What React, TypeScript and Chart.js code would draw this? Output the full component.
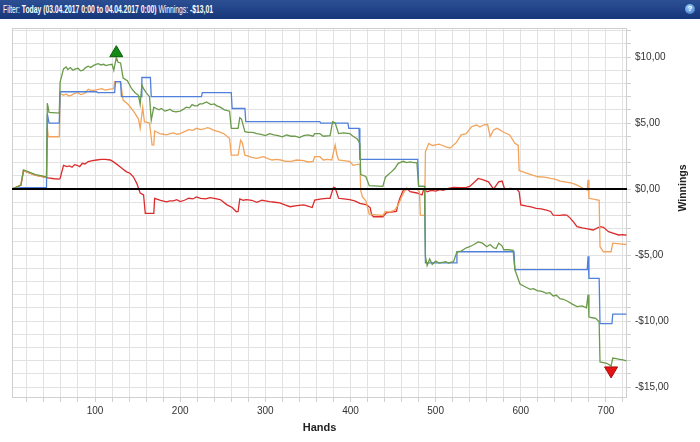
import React, { useEffect, useLayoutEffect, useRef } from 'react';
import { Chart, registerables } from 'chart.js';

Chart.register(...registerables);

// ---- data (hands on x, winnings in $ on y) ----
const greenHands = [2, 8, 13, 16, 22, 30, 38, 43, 44, 46, 58, 59, 63, 66, 68, 71, 74, 77, 80, 83, 86, 89, 92, 95, 98, 101, 104, 107, 110, 113, 116, 120, 122, 125, 127, 130, 133, 138, 143, 147, 151, 153, 155, 157, 160, 164, 166, 169, 172, 175, 178, 182, 185, 188, 191, 195, 200, 204, 207, 211, 214, 217, 220, 223, 226, 231, 236, 240, 243, 247, 252, 258, 260, 268, 270, 272, 276, 280, 285, 290, 295, 300, 305, 310, 315, 320, 325, 330, 335, 340, 345, 350, 356, 358, 364, 368, 376, 379, 382, 386, 392, 399, 403, 408, 411, 412, 418, 422, 438, 441, 448, 452, 456, 462, 466, 470, 474, 478, 480, 487, 488, 490, 493, 496, 500, 504, 508, 512, 515, 521, 525, 530, 536, 540, 545, 550, 555, 560, 564, 568, 571, 574, 578, 580, 586, 591, 593, 599, 605, 611, 615, 619, 625, 630, 634, 638, 642, 646, 650, 655, 660, 666, 672, 677, 679, 680, 684, 688, 692, 693, 701, 706, 708, 712, 716, 720, 724];
const greenValues = [0.0, 0.15, 0.3, 1.45, 1.3, 1.1, 1.0, 0.9, 6.5, 5.8, 5.75, 8.1, 9.1, 9.25, 9.05, 9.2, 9.0, 9.1, 9.15, 8.95, 9.0, 9.2, 9.3, 9.2, 9.35, 9.45, 9.5, 9.4, 9.45, 9.35, 9.4, 9.45, 9.0, 9.95, 9.6, 9.55, 8.4, 8.2, 7.6, 7.3, 7.1, 6.4, 7.9, 7.6, 7.3, 7.0, 5.2, 6.2, 6.1, 6.0, 6.1, 5.9, 5.95, 6.05, 5.9, 5.85, 5.9, 6.05, 6.2, 6.15, 6.4, 6.3, 6.3, 6.45, 6.45, 6.6, 6.4, 6.45, 6.3, 6.2, 6.0, 5.9, 4.6, 4.6, 5.4, 5.3, 4.35, 4.3, 4.3, 4.2, 4.15, 4.05, 4.2, 4.1, 4.05, 3.95, 4.1, 4.0, 4.0, 3.9, 4.05, 4.1, 4.0, 4.2, 4.2, 4.0, 4.05, 5.1, 5.0, 4.2, 4.25, 4.2, 4.0, 3.8, 3.46, 1.1, 0.95, 0.25, 0.2, 0.9, 1.3, 1.55, 1.95, 2.1, 2.0, 2.05, 2.0, 2.0, 0.2, 0.2, -5.1, -5.8, -5.3, -5.7, -5.45, -5.6, -5.55, -5.5, -5.6, -5.5, -4.75, -4.7, -4.45, -4.37, -4.2, -4.0, -4.1, -4.37, -4.2, -4.45, -4.5, -4.1, -4.3, -4.6, -4.6, -4.65, -6.1, -7.2, -7.4, -7.6, -7.55, -7.7, -7.75, -7.9, -7.85, -8.1, -8.05, -8.3, -8.35, -8.5, -8.7, -8.9, -8.85, -9.0, -8.0, -9.7, -9.75, -9.8, -10.05, -13.1, -13.2, -13.4, -12.8, -12.85, -12.9, -12.95, -13.01];

const blueHands = [2, 13, 43, 44, 46, 58, 59, 102, 103, 123, 124, 130, 131, 154, 155, 165, 166, 225, 226, 260, 261, 276, 277, 364, 365, 397, 398, 410, 411, 479, 480, 487, 488, 524, 525, 592, 593, 678, 679, 680, 692, 693, 707, 708, 724];
const blueValues = [0.0, 0.1, 0.1, 5.7, 5.0, 5.0, 7.37, 7.37, 7.3, 7.3, 8.13, 8.13, 7.0, 7.0, 8.45, 8.45, 7.0, 7.0, 7.3, 7.3, 6.1, 6.1, 5.1, 5.1, 5.0, 5.0, 4.6, 4.6, 2.25, 2.25, 0.2, 0.2, -5.6, -5.6, -4.75, -4.75, -6.1, -6.1, -5.1, -6.77, -6.77, -10.2, -10.2, -9.47, -9.47];

const orangeHands = [2, 8, 13, 16, 22, 30, 38, 43, 44, 45, 58, 59, 63, 66, 69, 72, 76, 80, 83, 86, 89, 92, 96, 100, 104, 108, 112, 116, 122, 123, 130, 133, 139, 144, 147, 151, 153, 156, 158, 164, 167, 169, 170, 173, 176, 180, 184, 188, 192, 196, 200, 205, 210, 215, 219, 224, 228, 232, 235, 239, 245, 251, 258, 260, 268, 271, 273, 276, 280, 284, 290, 294, 298, 303, 308, 313, 318, 324, 330, 337, 345, 350, 356, 358, 364, 368, 373, 378, 382, 384, 386, 392, 399, 403, 411, 412, 414, 418, 422, 430, 438, 441, 446, 452, 456, 460, 464, 470, 474, 478, 481, 482, 487, 488, 492, 496, 500, 504, 508, 512, 517, 524, 530, 536, 542, 548, 552, 556, 561, 564, 568, 572, 575, 580, 587, 593, 597, 598, 605, 612, 620, 628, 635, 640, 646, 655, 660, 666, 672, 678, 679, 680, 688, 692, 693, 697, 706, 708, 716, 724];
const orangeValues = [0.0, 0.15, 0.3, 1.4, 1.25, 1.05, 0.95, 0.85, 4.7, 3.96, 3.96, 7.25, 7.1, 7.2, 7.05, 7.1, 7.25, 7.3, 7.15, 7.2, 7.3, 7.55, 7.45, 7.5, 7.55, 7.6, 7.5, 7.55, 7.6, 8.13, 8.1, 6.74, 6.4, 6.0, 5.73, 5.3, 4.6, 6.2, 5.1, 5.0, 3.33, 3.35, 4.4, 4.3, 4.2, 4.15, 4.1, 4.2, 4.25, 4.15, 4.2, 4.35, 4.5, 4.45, 4.6, 4.5, 4.55, 4.65, 4.6, 4.47, 4.35, 4.2, 3.84, 2.57, 2.57, 3.7, 3.5, 2.57, 2.5, 2.4, 2.32, 2.4, 2.45, 2.3, 2.2, 2.25, 2.2, 2.1, 2.1, 2.2, 2.15, 2.05, 2.1, 2.45, 2.45, 2.2, 2.25, 2.2, 3.33, 2.6, 2.2, 2.15, 2.1, 1.8, 1.9, -0.1, -0.6, -0.9, -1.9, -1.95, -2.0, -1.7, -1.75, -1.6, -1.2, -0.6, -0.1, 0.05, 0.0, 0.0, -0.2, -1.97, -2.0, 2.83, 3.46, 3.3, 3.35, 3.4, 3.3, 3.2, 3.1, 3.5, 4.1, 4.2, 4.72, 4.85, 4.7, 4.85, 4.9, 3.97, 4.47, 4.6, 4.5, 4.3, 4.1, 3.46, 3.3, 1.4, 1.25, 1.1, 0.93, 0.9, 0.8, 0.75, 0.6, 0.5, 0.45, 0.3, 0.1, -0.08, 0.7, -0.7, -0.8, -0.85, -4.37, -4.75, -4.75, -4.1, -4.15, -4.2];

const redHands = [2, 8, 13, 16, 22, 30, 38, 45, 52, 58, 59, 63, 67, 70, 73, 76, 79, 82, 85, 88, 92, 97, 102, 107, 112, 118, 123, 129, 133, 137, 141, 145, 149, 153, 157, 159, 169, 170, 177, 184, 188, 192, 196, 200, 205, 210, 215, 219, 224, 230, 235, 240, 247, 255, 261, 266, 268, 270, 274, 278, 284, 290, 296, 300, 305, 311, 317, 323, 329, 337, 345, 350, 355, 358, 366, 372, 376, 380, 382, 386, 392, 399, 405, 411, 419, 423, 425, 427, 438, 442, 448, 454, 456, 458, 462, 466, 470, 478, 484, 486, 490, 495, 500, 505, 509, 515, 521, 528, 536, 540, 546, 550, 556, 562, 568, 574, 578, 581, 588, 595, 598, 600, 607, 612, 618, 624, 630, 635, 638, 646, 650, 654, 658, 662, 666, 672, 677, 685, 693, 697, 703, 709, 715, 720, 724];
const redValues = [0.0, 0.15, 0.3, 1.4, 1.25, 1.05, 0.95, 0.85, 0.78, 0.75, 0.8, 1.8, 1.7, 1.75, 1.65, 1.85, 1.8, 1.7, 1.95, 1.9, 2.07, 2.15, 2.2, 2.25, 2.25, 2.2, 2.0, 1.7, 1.5, 1.3, 1.2, 0.93, 0.43, -0.3, -0.45, -1.84, -1.84, -0.7, -0.85, -0.97, -0.9, -0.9, -0.8, -0.95, -0.85, -0.7, -0.75, -0.6, -0.7, -0.75, -0.65, -0.7, -0.8, -1.2, -1.4, -1.72, -1.7, -0.75, -0.85, -0.8, -0.85, -1.0, -0.85, -0.9, -0.96, -1.0, -1.05, -1.2, -1.34, -1.25, -1.2, -1.3, -1.4, -0.83, -0.75, -0.7, -0.7, 0.13, 0.1, -0.7, -0.75, -0.8, -0.9, -1.08, -1.2, -1.4, -1.97, -2.1, -2.1, -1.8, -1.75, -1.7, -1.08, -0.7, -0.08, 0.05, -0.2, -0.3, -0.45, 0.0, -0.2, -0.1, -0.15, -0.05, -0.1, 0.05, 0.13, 0.1, 0.13, 0.2, 0.55, 0.8, 0.7, 0.55, 0.0, 0.55, 0.6, 0.0, 0.05, 0.0, -0.2, -1.2, -1.3, -1.35, -1.46, -1.5, -1.6, -1.7, -1.97, -2.0, -1.95, -1.97, -2.2, -2.5, -2.85, -2.95, -3.0, -3.1, -2.85, -2.9, -3.23, -3.35, -3.48, -3.45, -3.5];

const xGridHands = [20, 40, 60, 80, 100, 120, 140, 160, 180, 200, 220, 240, 260, 280, 300, 320, 340, 360, 380, 400, 420, 440, 460, 480, 500, 520, 540, 560, 580, 600, 620, 640, 660, 680, 700, 720];
const xLabelHands = [100, 200, 300, 400, 500, 600, 700];
const yGridValues = [-15, -14, -13, -12, -11, -10, -9, -8, -7, -6, -5, -4, -3, -2, -1, 0, 1, 2, 3, 4, 5, 6, 7, 8, 9, 10, 11, 12];
const yLabelValues = [-15, -10, -5, 0, 5, 10];

const headerPeriod = 'Today (03.04.2017 0:00 to 04.04.2017 0:00)';
const headerWinnings = '-$13,01';

const FONT = "'Liberation Sans', Arial, sans-serif";

const fmtMoney = (v: number) =>
  (v < 0 ? '-' : '') + '$' + Math.abs(v).toFixed(2).replace('.', ',');

const overlayPlugin = {
  id: 'overlay',
  beforeDatasetsDraw(chart: any) {
    const { ctx, chartArea: a } = chart;
    ctx.save();
    ctx.strokeStyle = '#cfcfcf';
    ctx.lineWidth = 1;
    ctx.strokeRect(Math.round(a.left) + 0.5, Math.round(a.top) + 0.5, Math.round(a.right - a.left) - 1, Math.round(a.bottom - a.top) - 1);
    ctx.restore();
  },
  afterDatasetsDraw(chart: any) {
    const { ctx, chartArea: a, scales } = chart;
    const x = scales.x, y = scales.y;
    ctx.save();
    const y0 = Math.round(y.getPixelForValue(0));
    ctx.strokeStyle = '#000';
    ctx.lineWidth = 2;
    ctx.beginPath();
    ctx.moveTo(a.left, y0);
    ctx.lineTo(a.right, y0);
    ctx.stroke();
    let iMax = 0, iMin = 0;
    greenValues.forEach((v, i) => {
      if (v > greenValues[iMax]) iMax = i;
      if (v < greenValues[iMin]) iMin = i;
    });
    const mx = x.getPixelForValue(greenHands[iMax]);
    const my = y.getPixelForValue(greenValues[iMax]);
    ctx.fillStyle = '#138a13';
    ctx.strokeStyle = '#0b5e0b';
    ctx.lineWidth = 1;
    ctx.beginPath();
    ctx.moveTo(mx, my - 12);
    ctx.lineTo(mx + 6.5, my - 1);
    ctx.lineTo(mx - 6.5, my - 1);
    ctx.closePath();
    ctx.fill();
    ctx.stroke();
    const nx = x.getPixelForValue(greenHands[iMin]);
    const ny = y.getPixelForValue(greenValues[iMin]);
    ctx.fillStyle = '#e51414';
    ctx.strokeStyle = '#a50d0d';
    ctx.beginPath();
    ctx.moveTo(nx - 6.5, ny + 1);
    ctx.lineTo(nx + 6.5, ny + 1);
    ctx.lineTo(nx, ny + 12);
    ctx.closePath();
    ctx.fill();
    ctx.stroke();
    ctx.restore();
  },
  afterDraw(chart: any) {
    const { ctx, chartArea: a } = chart;
    ctx.save();
    ctx.fillStyle = '#222';
    ctx.font = `bold 11px ${FONT}`;
    ctx.textAlign = 'center';
    ctx.textBaseline = 'middle';
    ctx.fillText('Hands', (a.left + a.right) / 2, 428);
    ctx.translate(683, 188);
    ctx.rotate(-Math.PI / 2);
    ctx.font = `bold 10.5px ${FONT}`;
    ctx.fillText('Winnings', 0, 0);
    ctx.restore();
  },
};

function series(hands: number[], values: number[], color: string, order: number) {
  return {
    data: hands.map((h, i) => ({ x: h, y: values[i] })),
    borderColor: color,
    backgroundColor: color,
    borderWidth: 1.3,
    pointRadius: 0,
    pointHoverRadius: 0,
    fill: false,
    tension: 0,
    order,
  };
}

export default function App() {
  const canvasRef = useRef<HTMLCanvasElement>(null);
  const textRef = useRef<HTMLSpanElement>(null);

  useLayoutEffect(() => {
    const el = textRef.current;
    if (!el) return;
    const w = el.getBoundingClientRect().width;
    if (w > 0) el.style.transform = `scaleX(${210 / w})`;
  }, []);

  useEffect(() => {
    const canvas = canvasRef.current;
    if (!canvas) return;
    const chart = new Chart(canvas, {
      type: 'line',
      data: {
        datasets: [
          series(greenHands, greenValues, '#6a9a4a', 0),
          series(blueHands, blueValues, '#5080dc', 1),
          series(orangeHands, orangeValues, '#f2a45c', 2),
          series(redHands, redValues, '#dc2b2b', 3),
        ] as any,
      },
      options: {
        responsive: false,
        animation: false,
        devicePixelRatio: 1,
        layout: { padding: { left: 12, top: 28, right: 0, bottom: 0 } },
        plugins: {
          legend: { display: false },
          tooltip: { enabled: false },
          title: { display: false },
        },
        scales: {
          x: {
            type: 'linear',
            position: 'bottom',
            min: 2.5,
            max: 724.7,
            afterBuildTicks: (s: any) => {
              s.ticks = xGridHands.map((v) => ({ value: v }));
            },
            afterFit: (s: any) => {
              s.height = 44;
            },
            grid: { color: '#e2e2e2', lineWidth: 1, drawTicks: true, tickLength: 4, tickColor: '#d0d0d0' },
            border: { display: false },
            ticks: {
              autoSkip: false,
              maxRotation: 0,
              minRotation: 0,
              padding: 3,
              color: '#333',
              font: { family: FONT, size: 10 },
              callback: (v: any) => (xLabelHands.includes(Number(v)) ? String(v) : ''),
            },
          },
          y: {
            type: 'linear',
            position: 'right',
            min: -15.83,
            max: 12.2,
            afterBuildTicks: (s: any) => {
              s.ticks = yGridValues.map((v) => ({ value: v }));
            },
            afterFit: (s: any) => {
              s.width = 73;
            },
            grid: { color: '#e2e2e2', lineWidth: 1, drawTicks: true, tickLength: 4, tickColor: '#d0d0d0' },
            border: { display: false },
            ticks: {
              autoSkip: false,
              padding: 4,
              color: '#333',
              font: { family: FONT, size: 10 },
              callback: (v: any) => (yLabelValues.includes(Number(v)) ? fmtMoney(Number(v)) : ''),
            },
          },
        },
      } as any,
      plugins: [overlayPlugin],
    });
    return () => chart.destroy();
  }, []);

  return (
    <div style={{ position: 'fixed', left: 0, top: 0, width: 700, height: 442, background: '#fff', overflow: 'hidden' }}>
      <canvas ref={canvasRef} width={700} height={442} style={{ position: 'absolute', left: 0, top: 0, width: 700, height: 442, display: 'block' }} />
      <div
        style={{
          position: 'absolute',
          left: 0,
          top: 0,
          width: 700,
          height: 19,
          background: 'linear-gradient(#2c4f93, #17367a)',
          color: '#fff',
          fontFamily: FONT,
          fontSize: 10,
          lineHeight: '19px',
          whiteSpace: 'nowrap',
        }}
      >
        <span
          ref={textRef}
          style={{ position: 'absolute', left: 3, top: 0, display: 'inline-block', transformOrigin: '0 50%' }}
        >
          <span>Filter: </span>
          <span style={{ fontWeight: 'bold' }}>{headerPeriod}</span>
          <span> Winnings: </span>
          <span style={{ fontWeight: 'bold' }}>{headerWinnings}</span>
        </span>
        <span
          style={{
            position: 'absolute',
            left: 685,
            top: 4,
            width: 10,
            height: 10,
            borderRadius: 5,
            background: 'radial-gradient(circle at 40% 35%, #9fd0ff, #2f6fc0)',
            color: '#fff',
            fontFamily: FONT,
            fontWeight: 'bold',
            fontSize: 8,
            lineHeight: '10px',
            textAlign: 'center',
          }}
        >
          ?
        </span>
      </div>
    </div>
  );
}
